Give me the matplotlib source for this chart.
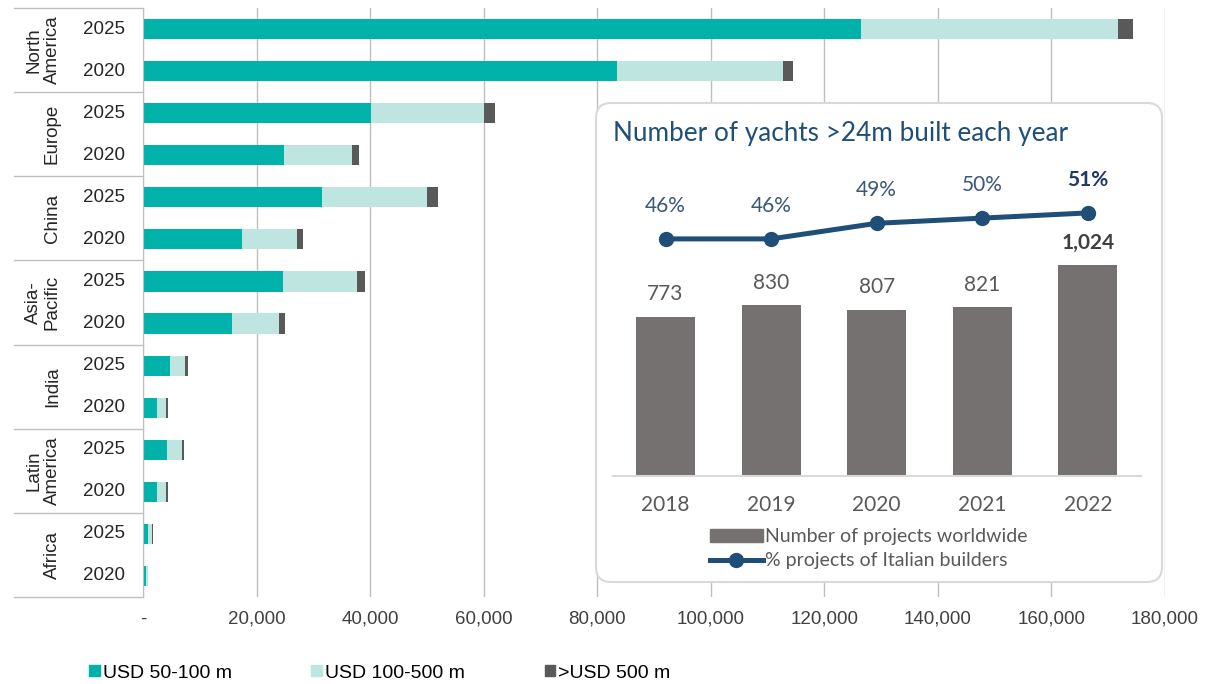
import matplotlib
matplotlib.use("Agg")
import matplotlib.pyplot as plt
from matplotlib.patches import Patch, FancyBboxPatch
from matplotlib.lines import Line2D
from matplotlib.ticker import FuncFormatter
import matplotlib.transforms as mtransforms

plt.rcParams["font.family"] = "Liberation Sans"

# main chart data (USD, number of individuals)
regions = ["North\nAmerica", "Europe", "China", "Asia-\nPacific", "India", "Latin\nAmerica", "Africa"]
years = ["2025", "2020"]
usd_50_100 = [126400, 83400, 40100, 24800, 31500, 17400, 24600, 15700, 4750, 2500, 4300, 2500, 950, 500]
usd_100_500 = [45400, 29400, 19900, 12000, 18500, 9700, 13100, 8200, 2700, 1550, 2600, 1550, 650, 380]
usd_500_plus = [2500, 1600, 2000, 1200, 2000, 1100, 1400, 1100, 400, 300, 400, 300, 150, 80]
series_names = ["USD 50-100 m", "USD 100-500 m", ">USD 500 m"]
x_ticks = [0, 20000, 40000, 60000, 80000, 100000, 120000, 140000, 160000, 180000]

# inset data
inset_years = ["2018", "2019", "2020", "2021", "2022"]
projects = [773, 830, 807, 821, 1024]
italian_pct = [46, 46, 49, 50, 51]

c_teal = "#00B2A9"
c_light = "#BFE5E1"
c_dark = "#595959"
c_grid = "#BFBFBF"
c_navy = "#1F4E79"

W, H = 1220, 684
fig = plt.figure(figsize=(12.2, 6.84), dpi=100)

ax = fig.add_axes([143 / W, (H - 597) / H, (1165 - 143) / W, (597 - 8) / H])
ypos = list(range(len(usd_50_100)))
left2 = [a for a in usd_50_100]
left3 = [a + b for a, b in zip(usd_50_100, usd_100_500)]
ax.barh(ypos, usd_50_100, height=0.48, color=c_teal, zorder=2)
ax.barh(ypos, usd_100_500, left=left2, height=0.48, color=c_light, zorder=2)
ax.barh(ypos, usd_500_plus, left=left3, height=0.48, color=c_dark, zorder=2)

ax.set_xlim(0, 180000)
ax.set_ylim(len(ypos) - 0.5, -0.5)
ax.set_xticks(x_ticks)
ax.xaxis.set_major_formatter(FuncFormatter(lambda v, p: "-" if v == 0 else f"{int(v):,}"))
ax.tick_params(axis="x", length=0, pad=10, labelsize=13.5, labelcolor="#404040")
ax.set_yticks([])
ax.grid(axis="x", color=c_grid, lw=1, zorder=0)
for s in ["top", "right", "bottom"]:
    ax.spines[s].set_visible(False)
ax.spines["left"].set_color(c_grid)

# row labels on the left
tr = mtransforms.blended_transform_factory(fig.transFigure, ax.transData)
for i in ypos:
    ax.text(103.5 / W, i, years[i % 2], transform=tr, ha="center", va="center",
            fontsize=13.5, color="#262626")
for g, name in enumerate(regions):
    ax.text(61 / W, 2 * g + 0.5, name, transform=tr, rotation=90, ha="right",
            va="center", multialignment="center", fontsize=13.5, color="#262626",
            linespacing=1.15)
for g in range(len(regions) + 1):
    ax.plot([14 / W, 143 / W], [2 * g - 0.5, 2 * g - 0.5], transform=tr,
            color=c_grid, lw=1, clip_on=False)

handles = [Patch(color=c) for c in [c_teal, c_light, c_dark]]
fig.legend(handles, series_names, loc="center left", bbox_to_anchor=(89 / W, (H - 673) / H),
           ncol=3, frameon=False, fontsize=14, handlelength=0.55, handleheight=0.55,
           handletextpad=0.15, columnspacing=4.1, borderpad=0, borderaxespad=0)

# inset box
box = FancyBboxPatch((5.96, (H - 582) / 100), 5.66, (582 - 103) / 100,
                     boxstyle="round,pad=0,rounding_size=0.15",
                     transform=fig.dpi_scale_trans, facecolor="white",
                     edgecolor="#D9D9D9", lw=1.5, zorder=1)
fig.patches.append(box)

fig.text(613 / W, (H - 133) / H, "Number of yachts >24m built each year",
         family="Lato", fontsize=18.8, color=c_navy, ha="left", va="center", zorder=3)

ax2 = fig.add_axes([612.7 / W, (H - 476) / H, 528 / W, 326 / H])
ax2.set_zorder(2)
ax2.patch.set_visible(False)
xi = list(range(len(inset_years)))
ax2.bar(xi, projects, width=0.56, color="#767171")
ax2.set_xlim(-0.5, 4.5)
ax2.set_ylim(0, 1582)
ax2.set_xticks(xi)
ax2.set_xticklabels(inset_years, family="Lato", fontsize=15, color="#595959")
ax2.tick_params(axis="x", length=0, pad=14)
ax2.set_yticks([])
for s in ["top", "right", "left"]:
    ax2.spines[s].set_visible(False)
ax2.spines["bottom"].set_color("#D9D9D9")
ax2.spines["bottom"].set_linewidth(1.5)
for i, v in enumerate(projects):
    last = i == len(projects) - 1
    ax2.annotate(f"{v:,}", (i, v), xytext=(0, 16), textcoords="offset points",
                 ha="center", va="center", family="Lato", fontsize=15,
                 fontweight="bold" if last else "normal",
                 color="#404040" if last else "#595959")

ax3 = ax2.twinx()
ax3.set_zorder(3)
ax3.patch.set_visible(False)
ax3.plot(xi, italian_pct, color=c_navy, lw=3.6, marker="o", ms=10)
ax3.set_ylim(0.4, 63.1)
ax3.set_yticks([])
for s in ax3.spines.values():
    s.set_visible(False)
for i, v in enumerate(italian_pct):
    last = i == len(italian_pct) - 1
    ax3.annotate(f"{v}%", (i, v), xytext=(0, 24), textcoords="offset points",
                 ha="center", va="center", family="Lato", fontsize=15,
                 fontweight="bold" if last else "normal",
                 color="#1F3864" if last else "#3B5878")

h2 = [Patch(color="#767171"),
      Line2D([], [], color=c_navy, lw=3.6, marker="o", ms=10)]
leg2 = fig.legend(h2, ["Number of projects worldwide", "% projects of Italian builders"],
                  loc="upper left", bbox_to_anchor=(710 / W, (H - 528) / H),
                  frameon=False, prop={"family": "Lato", "size": 14},
                  handlelength=2.7, handleheight=0.65, handletextpad=0.15,
                  labelspacing=0.38, borderpad=0, borderaxespad=0, numpoints=1)
for t in leg2.get_texts():
    t.set_color("#595959")
leg2.set_zorder(5)

fig.savefig("out.png", dpi=100)
